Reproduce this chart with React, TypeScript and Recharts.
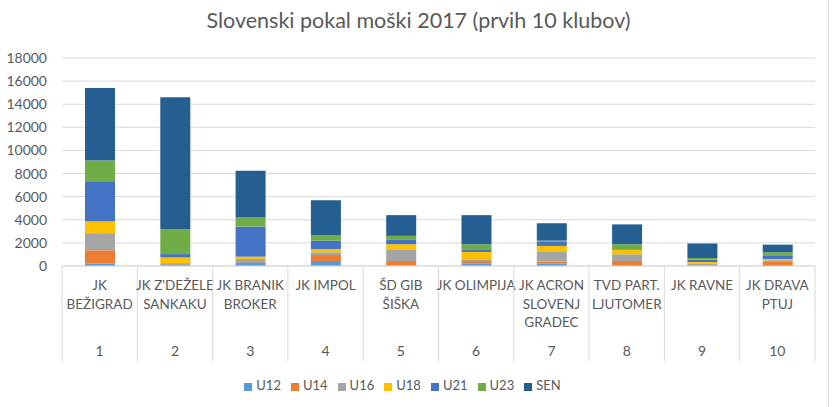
import { Bar, BarChart, CartesianGrid, Legend, XAxis, YAxis } from "recharts"

const ranks = ["1", "2", "3", "4", "5", "6", "7", "8", "9", "10"]
const clubs = [
  ["JK", "BEŽIGRAD"],
  ["JK Z'DEŽELE", "SANKAKU"],
  ["JK BRANIK", "BROKER"],
  ["JK IMPOL"],
  ["ŠD GIB", "ŠIŠKA"],
  ["JK OLIMPIJA"],
  ["JK ACRON", "SLOVENJ", "GRADEC"],
  ["TVD PART.", "LJUTOMER"],
  ["JK RAVNE"],
  ["JK DRAVA", "PTUJ"],
]

const u12 = [200, 0, 260, 435, 60, 230, 200, 0, 0, 90]
const u14 = [1160, 80, 0, 520, 375, 200, 175, 435, 0, 260]
const u16 = [1480, 170, 350, 230, 960, 145, 840, 580, 230, 145]
const u18 = [1040, 490, 200, 290, 490, 640, 520, 375, 115, 115]
const u21 = [3390, 290, 2600, 720, 375, 230, 350, 0, 200, 320]
const u23 = [1850, 2170, 780, 490, 350, 435, 115, 490, 145, 260]
const sen = [6280, 11400, 4060, 3015, 1790, 2520, 1500, 1720, 1260, 660]

const yTicks = [0, 2000, 4000, 6000, 8000, 10000, 12000, 14000, 16000, 18000]

const series = [
  { key: "U12", values: u12, color: "#5B9BD5" },
  { key: "U14", values: u14, color: "#ED7D31" },
  { key: "U16", values: u16, color: "#A5A5A5" },
  { key: "U18", values: u18, color: "#FFC000" },
  { key: "U21", values: u21, color: "#4472C4" },
  { key: "U23", values: u23, color: "#70AD47" },
  { key: "SEN", values: sen, color: "#255E91" },
]
const order = series.map((s) => s.key)

const data = ranks.map((rank, i) => {
  const row: Record<string, string | number> = { rank }
  series.forEach((s) => (row[s.key] = s.values[i]))
  return row
})

const font = "Lato, 'Open Sans', sans-serif"
const textColor = "#595959"
const gridColor = "#d9d9d9"

function ClubTick(props: any) {
  const { x, y, payload, index } = props
  const band = 75.3
  const lines = clubs[index] || []
  return (
    <g>
      <line x1={x - band / 2} x2={x - band / 2} y1={y} y2={y + 95} stroke={gridColor} />
      {index === ranks.length - 1 && (
        <line x1={x + band / 2} x2={x + band / 2} y1={y} y2={y + 95} stroke={gridColor} />
      )}
      {lines.map((t: string, i: number) => (
        <text key={i} x={x} y={y + 24} dy={i * 18.5} textAnchor="middle" fill={textColor} fontSize={13.5} fontFamily={font}>
          {t}
        </text>
      ))}
      <text x={x} y={y + 90} textAnchor="middle" fill={textColor} fontSize={14} fontFamily={font}>
        {payload.value}
      </text>
    </g>
  )
}

export default function App() {
  return (
    <div style={{ position: "absolute", left: 0, top: 0, width: 837, height: 407, background: "#fff", fontFamily: font }}>
      <div style={{ position: "absolute", right: 8, top: 0, width: 1, height: 407, background: gridColor }} />
      <div
        style={{
          position: "absolute",
          top: 7,
          left: 0,
          width: 837,
          textAlign: "center",
          fontSize: 21.5,
          color: textColor,
        }}
      >
        Slovenski pokal moški 2017 (prvih 10 klubov)
      </div>
      <BarChart width={837} height={407} data={data} margin={{ top: 58, right: 22, left: 0, bottom: 14 }} barSize={30}>
        <CartesianGrid vertical={false} stroke={gridColor} />
        <XAxis
          dataKey="rank"
          interval={0}
          tickLine={false}
          tickSize={0}
          tickMargin={0}
          axisLine={{ stroke: gridColor }}
          height={111}
          tick={<ClubTick />}
        />
        <YAxis
          width={62}
          domain={[0, 18000]}
          ticks={yTicks}
          axisLine={false}
          tickLine={false}
          tickMargin={9}
          tick={{ fill: textColor, fontSize: 14, fontFamily: font }}
        />
        <Legend
          verticalAlign="bottom"
          iconType="square"
          iconSize={8}
          itemSorter={(item: any) => order.indexOf(item.value)}
          wrapperStyle={{ fontSize: 13, fontFamily: font }}
          formatter={(v) => <span style={{ color: textColor }}>{v}</span>}
        />
        {series.map((s) => (
          <Bar key={s.key} dataKey={s.key} stackId="a" fill={s.color} isAnimationActive={false} />
        ))}
      </BarChart>
    </div>
  )
}
